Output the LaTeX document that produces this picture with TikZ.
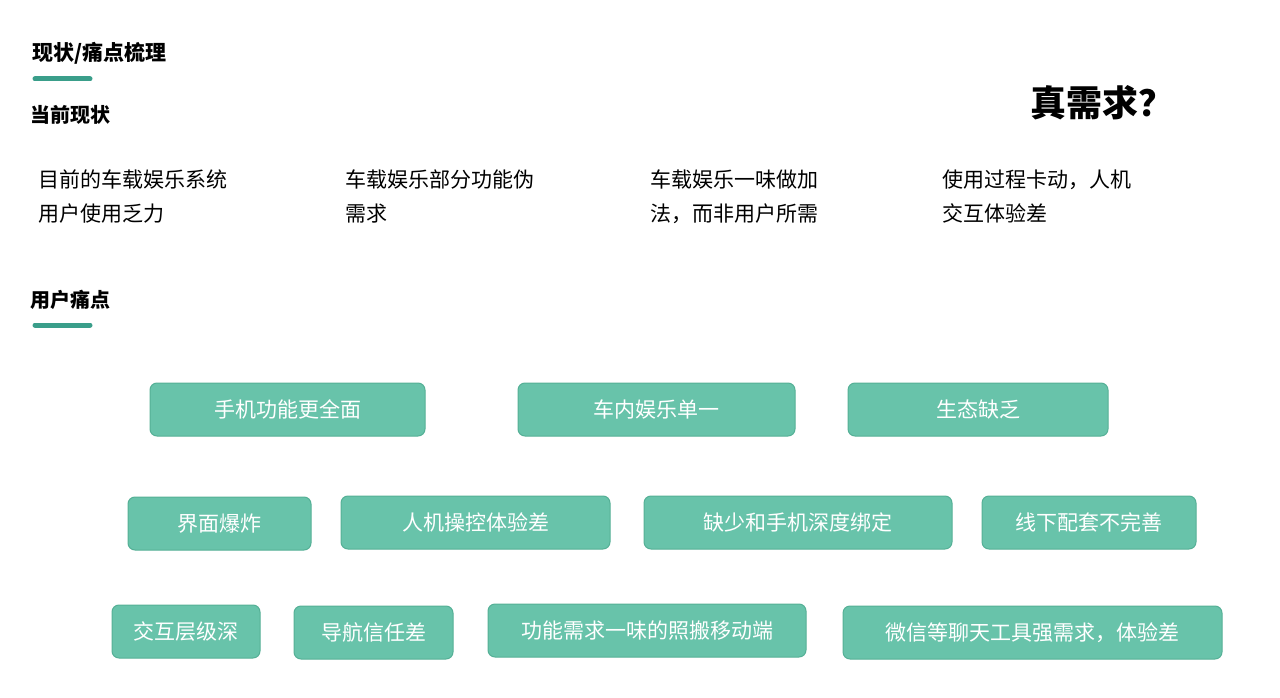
\documentclass[tikz,border=0pt]{standalone}
\usepackage{fontspec}
\setmainfont{Noto Sans CJK SC}
\begin{document}
\begin{tikzpicture}[x=1pt,y=-1pt,
  pbox/.style={draw=boxline,fill=boxfill,rounded corners=7pt,line width=1pt,text=white,font=\fontsize{21}{25}\selectfont},
  body/.style={anchor=north west,align=left,font=\fontsize{21}{34}\selectfont,inner sep=0pt},
  bar/.style={line width=5pt,draw=barcol,line cap=round}]
\definecolor{boxfill}{HTML}{68C3AA}
\definecolor{boxline}{HTML}{55B096}
\definecolor{barcol}{HTML}{3A9E8A}
\useasboundingbox (0,0) rectangle (1280,698);
\fill[white] (0,0) rectangle (1280,698);
\node[anchor=west,inner sep=0pt,font=\bfseries\fontsize{21}{25}\selectfont] (t1) at (32,53) {现状/痛点梳理};
\coordinate (b1a) at (35,79); \coordinate (b1b) at (90,79);
\draw[bar] (b1a) -- (b1b);
\node[anchor=west,inner sep=0pt,font=\bfseries\fontsize{20}{24}\selectfont] (t2) at (30,115) {当前现状};
\node[anchor=west,inner sep=0pt,font=\bfseries\fontsize{20}{24}\selectfont] (t3) at (30,300) {用户痛点};
\coordinate (b2a) at (35,325); \coordinate (b2b) at (90,325);
\draw[bar] (b2a) -- (b2b);
\node[anchor=west,inner sep=0pt,font=\bfseries\fontsize{36}{40}\selectfont] (t4) at (1030,103) {真需求？};
\node[body] (c1) at (38,170) {目前的车载娱乐系统\\用户使用乏力};
\node[body] (c2) at (345,170) {车载娱乐部分功能伪\\需求};
\node[body] (c3) at (650,170) {车载娱乐一味做加\\法，而非用户所需};
\node[body] (c4) at (942,170) {使用过程卡动，人机\\交互体验差};
\newcommand\pb[6]{\draw[pbox] (#1,#2) rectangle (#3,#4) node[midway,draw=none,fill=none] (#5) {#6};}
\pb{150}{383}{425}{436}{p1}{手机功能更全面}
\pb{518}{383}{795}{436}{p2}{车内娱乐单一}
\pb{848}{383}{1108}{436}{p3}{生态缺乏}
\pb{128}{497}{311}{550}{p4}{界面爆炸}
\pb{341}{496}{610}{549}{p5}{人机操控体验差}
\pb{644}{496}{952}{549}{p6}{缺少和手机深度绑定}
\pb{982}{496}{1196}{549}{p7}{线下配套不完善}
\pb{112}{605}{260}{658}{p8}{交互层级深}
\pb{294}{606}{453}{659}{p9}{导航信任差}
\pb{488}{604}{806}{657}{p10}{功能需求一味的照搬移动端}
\pb{843}{606}{1222}{659}{p11}{微信等聊天工具强需求，体验差}
\end{tikzpicture}
\end{document}
